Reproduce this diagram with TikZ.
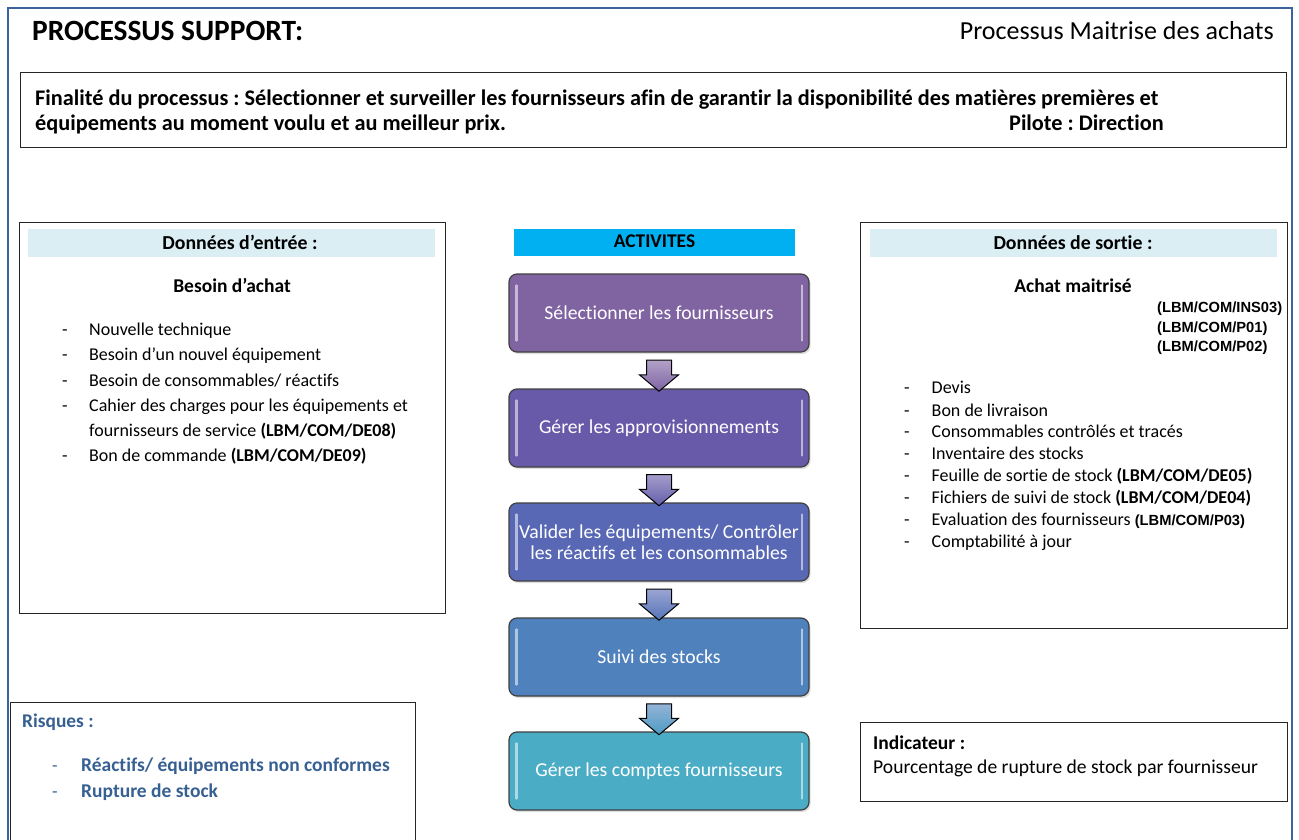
\documentclass[tikz,border=0pt]{standalone}
\usepackage{fontspec}
\setmainfont{Carlito}[Ligatures=NoCommon]
\newfontfamily\codefont{Liberation Sans}
\usetikzlibrary{calc,shapes.arrows,shadows}
\newcommand\fsz[1]{\fontsize{#1}{#1}\selectfont}

\definecolor{frameblue}{RGB}{58,99,160}
\definecolor{bandblue}{RGB}{218,238,243}
\definecolor{actblue}{RGB}{0,176,240}
\definecolor{riskblue}{RGB}{55,96,146}
\definecolor{stepA}{RGB}{128,100,162}
\definecolor{stepB}{RGB}{104,90,168}
\definecolor{stepC}{RGB}{88,104,180}
\definecolor{stepD}{RGB}{79,129,189}
\definecolor{stepE}{RGB}{75,172,198}

\tikzset{
  panel/.style={draw=black!85, line width=1pt},
  band/.style={fill=bandblue, draw=none},
  txt/.style={anchor=base west, inner sep=0pt, font=\fsz{18}},
  dashmark/.style={anchor=base west, inner sep=0pt, font=\fsz{18}},
  headtxt/.style={anchor=base, inner sep=0pt, font=\fsz{19.8}\bfseries},
  codetxt/.style={anchor=base west, inner sep=0pt, font=\codefont\fsz{14.7}\bfseries},
  stepbox/.style={draw=black!75, line width=1.2pt, rounded corners=8pt,
    minimum width=300pt, minimum height=78pt, text=white, align=center,
    font=\fsz{19.7}, drop shadow={shadow xshift=1.5pt, shadow yshift=-2pt, opacity=0.25}},
  gloss/.style={line width=2.2pt, line cap=round, draw=white, opacity=0.55},
  flowarrow/.style={single arrow, shape border rotate=270, draw=black, line width=1pt,
    inner xsep=12pt, inner ysep=0pt, single arrow head extend=7pt,
    single arrow tip angle=100, minimum height=31pt}
}

\begin{document}
\frenchspacing
\begin{tikzpicture}[x=1pt,y=-1pt]
\useasboundingbox (0,0) rectangle (1299,840);
\fill[white] (0,0) rectangle (1299,840);

% page frame (open at the bottom edge)
\draw[frameblue, line width=2.4pt] (8,840) -- (8,8) -- (1292,8) -- (1292,840);

% heading
\node[anchor=base west, inner sep=0pt, font=\fsz{29.4}\bfseries] (title) at (32,40.5) {PROCESSUS SUPPORT:};
\node[anchor=base east, inner sep=0pt, font=\fsz{26}] (procname) at (1274,39.5) {Processus Maitrise des achats};

% purpose of the process
\draw[panel] (20,73) rectangle (1286,148);
\node[anchor=base west, inner sep=0pt, font=\fsz{22.3}\bfseries] (fin1) at (35,105.5)
  {Finalité du processus : Sélectionner et surveiller les fournisseurs afin de garantir la disponibilité des matières premières et};
\node[anchor=base west, inner sep=0pt, font=\fsz{22.3}\bfseries] (fin2) at (35,131)
  {équipements au moment voulu et au meilleur prix.};
\node[anchor=base east, inner sep=0pt, font=\fsz{22.3}\bfseries] (pilot) at (1164,131) {Pilote : Direction};

% input data
\draw[panel] (19,222) rectangle (445,613);
\fill[band] (28,229) rectangle (435,257);
\node[headtxt] (inhead) at (240,249) {Données d’entrée :};
\node[headtxt, font=\fsz{19.5}\bfseries] (inmain) at (232,292) {Besoin d’achat};
\foreach \y/\t [count=\i] in {335.5/{Nouvelle technique},
    360.5/{Besoin d’un nouvel équipement},
    386/{Besoin de consommables/ réactifs},
    411/{Cahier des charges pour les équipements et},
    461.5/{Bon de commande \textbf{(LBM/COM/DE09)}}}{
  \node[dashmark] (indash\i) at (62,\y) {-};
  \node[txt] (initem\i) at (89,\y) {\t};
}
\node[txt] (initem4b) at (89,436) {fournisseurs de service \textbf{(LBM/COM/DE08)}};

% activities
\fill[actblue] (514,229) rectangle (795,256);
\node[headtxt, font=\fsz{19.4}\bfseries] (acthead) at (654.5,247.5) {ACTIVITES};

\node[stepbox, fill=stepA] (s1) at (659,313) {Sélectionner les fournisseurs};
\node[stepbox, fill=stepB] (s2) at (659,428) {Gérer les approvisionnements};
\node[stepbox, fill=stepC] (s3) at (659,542) {Valider les équipements/ Contrôler\\[1.5pt]les réactifs et les consommables};
\node[stepbox, fill=stepD] (s4) at (659,657) {Suivi des stocks};
\node[stepbox, fill=stepE] (s5) at (659,771) {Gérer les comptes fournisseurs};

\foreach \s in {s1,s2,s3,s4,s5}{
  \draw[gloss] ($(\s.north west)+(8,12)$) -- ($(\s.south west)+(8,-12)$);
  \draw[gloss] ($(\s.north east)+(-8,12)$) -- ($(\s.south east)+(-8,-12)$);
}

\node[flowarrow, top color=stepA!60!white, bottom color=stepA!85!stepB] (f1) at ($(s1.south)!0.5!(s2.north)$) {};
\node[flowarrow, top color=stepB!60!white, bottom color=stepB!70!stepC] (f2) at ($(s2.south)!0.5!(s3.north)$) {};
\node[flowarrow, top color=stepC!60!white, bottom color=stepC!50!stepD] (f3) at ($(s3.south)!0.5!(s4.north)$) {};
\node[flowarrow, top color=stepD!60!white, bottom color=stepD!40!stepE] (f4) at ($(s4.south)!0.5!(s5.north)$) {};

% output data
\draw[panel] (860,222) rectangle (1287,628);
\fill[band] (870,229) rectangle (1277,257);
\node[headtxt] (outhead) at (1073,249) {Données de sortie :};
\node[headtxt, font=\fsz{19.5}\bfseries] (outmain) at (1073,292) {Achat maitrisé};
\node[codetxt] (code1) at (1157,312) {(LBM/COM/INS03)};
\node[codetxt] (code2) at (1157,332) {(LBM/COM/P01)};
\node[codetxt] (code3) at (1157,351.5) {(LBM/COM/P02)};
\foreach \y/\t [count=\i] in {393.5/{Devis},
    416.5/{Bon de livraison},
    437.5/{Consommables contrôlés et tracés},
    459.5/{Inventaire des stocks},
    481.5/{Feuille de sortie de stock \textbf{(LBM/COM/DE05)}},
    503.5/{Fichiers de suivi de stock \textbf{(LBM/COM/DE04)}},
    525.5/{Evaluation des fournisseurs {\codefont\fsz{14.7}\bfseries(LBM/COM/P03)}},
    547.5/{Comptabilité à jour}}{
  \node[dashmark] (outdash\i) at (904,\y) {-};
  \node[txt] (outitem\i) at (931.5,\y) {\t};
}

% risks
\draw[panel] (10,840) -- (10,702) -- (415,702) -- (415,840);
\node[anchor=base west, inner sep=0pt, font=\fsz{19.4}\bfseries, text=riskblue] (riskhead) at (22,727.5) {Risques :};
\node[dashmark, text=riskblue] (rdash1) at (52,771) {-};
\node[anchor=base west, inner sep=0pt, font=\fsz{19.5}\bfseries, text=riskblue] (risk1) at (81,771) {Réactifs/ équipements non conformes};
\node[dashmark, text=riskblue] (rdash2) at (52,797.5) {-};
\node[anchor=base west, inner sep=0pt, font=\fsz{19.5}\bfseries, text=riskblue] (risk2) at (81,797.5) {Rupture de stock};

% indicator
\draw[panel] (860,722) rectangle (1287,801);
\node[anchor=base west, inner sep=0pt, font=\fsz{19.5}\bfseries] (indhead) at (873,749) {Indicateur :};
\node[anchor=base west, inner sep=0pt, font=\fsz{19.6}] (indtext) at (873,773) {Pourcentage de rupture de stock par fournisseur};
\end{tikzpicture}
\end{document}
